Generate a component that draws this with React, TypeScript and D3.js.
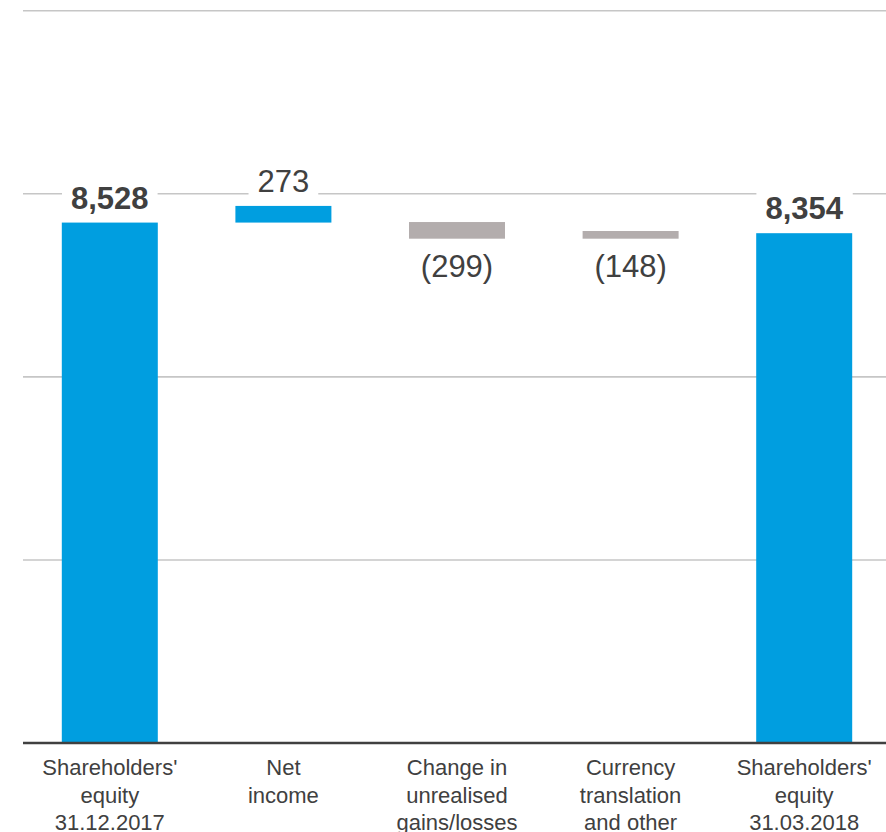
import React, { useEffect, useRef } from "react";
import * as d3 from "d3";

const categories = [
  ["Shareholders'", "equity", "31.12.2017"],
  ["Net", "income"],
  ["Change in", "unrealised", "gains/losses"],
  ["Currency", "translation", "and other"],
  ["Shareholders'", "equity", "31.03.2018"],
];
const categoryKeys = ["open", "net", "unreal", "fx", "close"];
const values = [8528, 273, -299, -148, 8354];
const isTotal = [true, false, false, false, true];
// bar extents (EUR m)
const barLow = [0, 8528, 8264, 8264, 0];
const barHigh = [8528, 8801, 8537, 8390, 8354];
const gridValues = [3000, 6000, 9000, 12000];

const W = 886;
const H = 832;
const BLUE = "#009ee0";
const GREY = "#b3adad";
const TEXT = "#404040";

const fmt = (v: number) => {
  const s = d3.format(",")(Math.abs(v));
  return v < 0 ? `(${s})` : s;
};

export default function App() {
  const ref = useRef<SVGSVGElement | null>(null);

  useEffect(() => {
    const svg = d3.select(ref.current);
    svg.selectAll("*").remove();

    const x = d3
      .scaleBand<string>()
      .domain(categoryKeys)
      .range([23, 891])
      .paddingInner(0.447)
      .paddingOuter(0.2235);
    const y = d3.scaleLinear().domain([0, 12000]).range([743, 10.7]);

    // gridlines
    svg
      .append("g")
      .selectAll("line")
      .data(gridValues)
      .join("line")
      .attr("x1", 23)
      .attr("x2", W)
      .attr("y1", (d) => y(d))
      .attr("y2", (d) => y(d))
      .attr("stroke", "#c6c6c6")
      .attr("stroke-width", 1.6);

    // bars
    svg
      .append("g")
      .selectAll("rect")
      .data(categoryKeys)
      .join("rect")
      .attr("x", (d) => x(d)!)
      .attr("width", x.bandwidth())
      .attr("y", (_, i) => y(barHigh[i]))
      .attr("height", (_, i) => y(barLow[i]) - y(barHigh[i]))
      .attr("fill", (_, i) => (values[i] >= 0 ? BLUE : GREY));

    // baseline
    svg
      .append("line")
      .attr("x1", 23)
      .attr("x2", W)
      .attr("y1", y(0))
      .attr("y2", y(0))
      .attr("stroke", "#404040")
      .attr("stroke-width", 2.6);

    // value labels
    const lg = svg.append("g");
    categoryKeys.forEach((k, i) => {
      const cx = x(k)! + x.bandwidth() / 2;
      const by = values[i] >= 0 ? y(barHigh[i]) - 14 : y(barLow[i]) + 38;
      const g = lg.append("g");
      const bg = g.append("rect").attr("fill", "#fff");
      const t = g
        .append("text")
        .attr("x", cx)
        .attr("y", by)
        .attr("text-anchor", "middle")
        .attr("font-family", "Liberation Sans, Arial, sans-serif")
        .attr("font-size", 31)
        .attr("font-weight", isTotal[i] ? "bold" : "normal")
        .attr("fill", TEXT)
        .text(fmt(values[i]));
      const bb = (t.node() as SVGTextElement).getBBox();
      bg.attr("x", bb.x - 9)
        .attr("y", bb.y)
        .attr("width", bb.width + 18)
        .attr("height", bb.height);
    });

    // category labels
    const cg = svg.append("g");
    categoryKeys.forEach((k, i) => {
      const cx = x(k)! + x.bandwidth() / 2;
      const t = cg
        .append("text")
        .attr("text-anchor", "middle")
        .attr("font-family", "Liberation Sans, Arial, sans-serif")
        .attr("font-size", 22)
        .attr("fill", TEXT);
      categories[i].forEach((line, j) => {
        t.append("tspan")
          .attr("x", cx)
          .attr("y", 775 + j * 27.5)
          .text(line);
      });
    });
  }, []);

  return (
    <svg
      ref={ref}
      width={W}
      height={H}
      style={{ position: "absolute", left: 0, top: 0, background: "#fff" }}
    />
  );
}
